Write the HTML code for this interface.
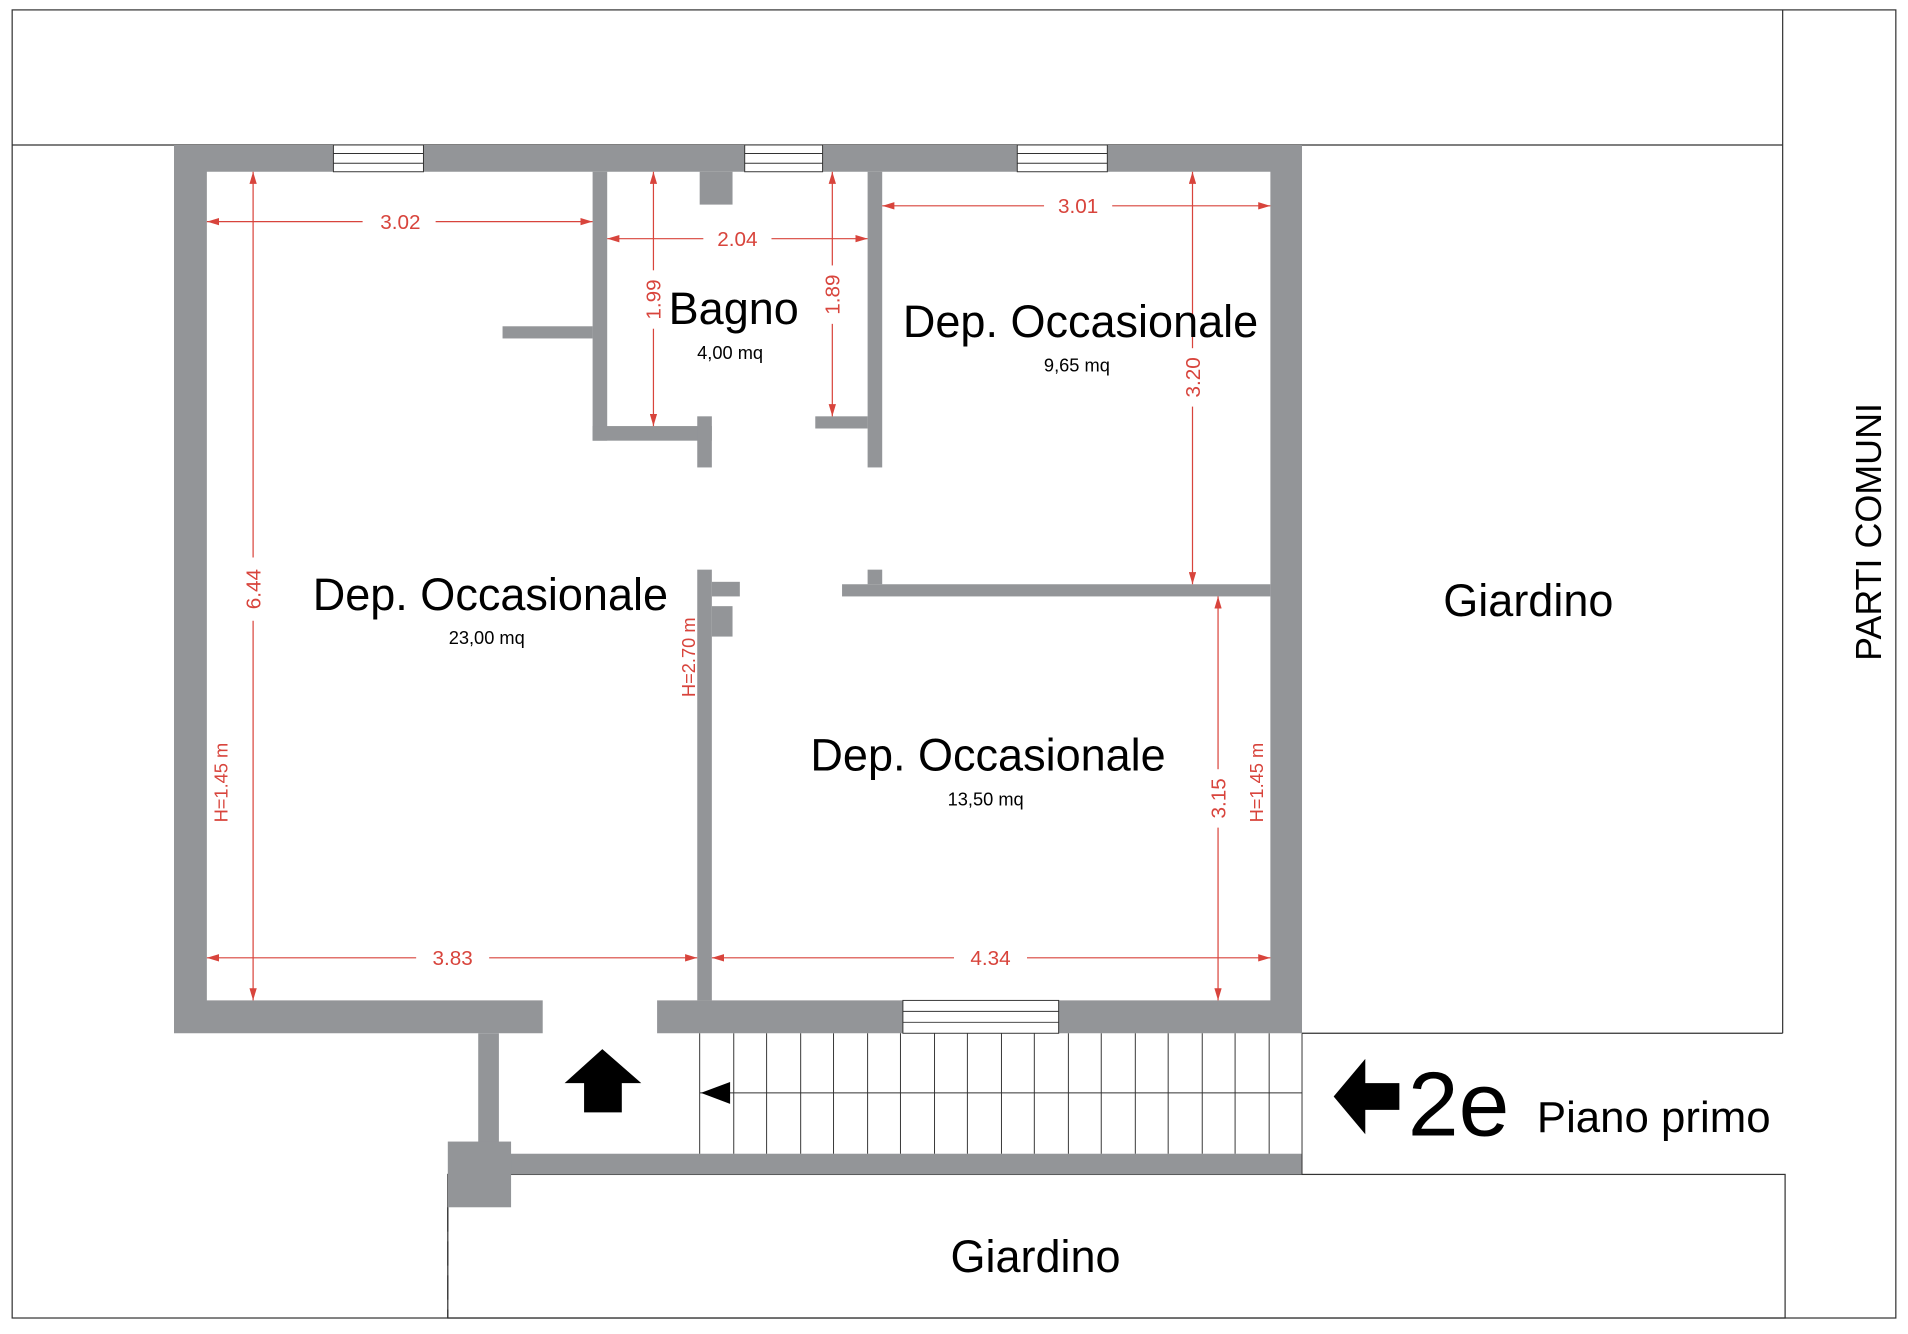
<!DOCTYPE html>
<html><head><meta charset="utf-8"><style>
html,body{margin:0;padding:0;background:#fff;}
svg{display:block;}
text{font-family:"Liberation Sans",sans-serif;}
</style></head><body>
<svg width="1908" height="1334" viewBox="0 0 1568 1096" xmlns="http://www.w3.org/2000/svg">
<defs>
<marker id="a" viewBox="0 0 10 6" refX="10" refY="3" markerWidth="10" markerHeight="6" orient="auto-start-reverse" markerUnits="userSpaceOnUse"><path d="M0,0 L10,3 L0,6 z" fill="#d8443c"/></marker>
</defs>
<rect width="1568" height="1096" fill="#fff"/>
<g fill="none" stroke="#333" stroke-width="1">
<rect x="10" y="8" width="1548" height="1075"/>
<line x1="10" y1="119" x2="1465" y2="119"/>
<line x1="1465" y1="8" x2="1465" y2="849"/>
<line x1="1070" y1="849" x2="1465" y2="849"/>
<rect x="368" y="965" width="1099" height="118"/>
<line x1="368" y1="992" x2="368" y2="1083" stroke-dasharray="20,8"/>
</g>
<g fill="#939598">
<path d="M143,119 H1070 V849 H143 Z M170,141 V822 H1044 V141 Z" fill-rule="evenodd"/>
<rect x="487" y="141" width="12" height="221"/>
<rect x="487" y="350" width="98" height="12"/>
<rect x="573" y="342" width="12" height="42"/>
<rect x="575" y="141" width="27" height="27"/>
<rect x="413" y="268" width="74" height="10"/>
<rect x="713" y="141" width="12" height="243"/>
<rect x="670" y="342" width="43" height="10"/>
<rect x="573" y="468" width="12" height="354"/>
<rect x="585" y="478" width="23" height="12"/>
<rect x="585" y="498" width="17" height="25"/>
<rect x="692" y="480" width="352" height="10"/>
<rect x="713" y="468" width="12" height="12"/>
<rect x="393" y="849" width="17" height="99"/>
<rect x="410" y="948" width="660" height="17"/>
<rect x="368" y="938" width="52" height="54"/>
</g>
<g fill="#fff" stroke="#333" stroke-width="0.8">
<rect x="274" y="119" width="74" height="22"/>
<line x1="274" y1="126" x2="348" y2="126"/><line x1="274" y1="134" x2="348" y2="134"/>
<rect x="612" y="119" width="64" height="22"/>
<line x1="612" y1="126" x2="676" y2="126"/><line x1="612" y1="134" x2="676" y2="134"/>
<rect x="836" y="119" width="74" height="22"/>
<line x1="836" y1="126" x2="910" y2="126"/><line x1="836" y1="134" x2="910" y2="134"/>
<rect x="742" y="822" width="128" height="27"/>
<line x1="742" y1="831" x2="870" y2="831"/><line x1="742" y1="840" x2="870" y2="840"/>
</g>
<rect x="446" y="820" width="94" height="31" fill="#fff"/>
<g stroke="#333" stroke-width="0.8">
<line x1="575" y1="898" x2="1070" y2="898"/>
<line x1="575" y1="849" x2="575" y2="948"/><line x1="603" y1="849" x2="603" y2="948"/><line x1="630" y1="849" x2="630" y2="948"/><line x1="658" y1="849" x2="658" y2="948"/><line x1="685" y1="849" x2="685" y2="948"/><line x1="713" y1="849" x2="713" y2="948"/><line x1="740" y1="849" x2="740" y2="948"/><line x1="768" y1="849" x2="768" y2="948"/><line x1="795" y1="849" x2="795" y2="948"/><line x1="823" y1="849" x2="823" y2="948"/><line x1="850" y1="849" x2="850" y2="948"/><line x1="878" y1="849" x2="878" y2="948"/><line x1="905" y1="849" x2="905" y2="948"/><line x1="933" y1="849" x2="933" y2="948"/><line x1="960" y1="849" x2="960" y2="948"/><line x1="988" y1="849" x2="988" y2="948"/><line x1="1015" y1="849" x2="1015" y2="948"/><line x1="1043" y1="849" x2="1043" y2="948"/><line x1="1070" y1="849" x2="1070" y2="965"/>
</g>
<path d="M576,898 L600,889 L600,907 Z" fill="#000"/>
<path d="M495,862 L527,890 L511,890 L511,914 L480,914 L480,890 L464,890 Z" fill="#000"/>
<path d="M1096,901 L1122,870 L1122,890 L1150,890 L1150,912 L1122,912 L1122,932 Z" fill="#000"/>
<g stroke="#d8443c" stroke-width="1" fill="none" marker-start="url(#a)" marker-end="url(#a)">
<line x1="170" y1="182" x2="487" y2="182"/>
<line x1="499" y1="196" x2="713" y2="196"/>
<line x1="725" y1="169" x2="1044" y2="169"/>
<line x1="208" y1="141" x2="208" y2="822"/>
<line x1="537" y1="141" x2="537" y2="350"/>
<line x1="684" y1="141" x2="684" y2="342"/>
<line x1="980" y1="141" x2="980" y2="480"/>
<line x1="1001" y1="490" x2="1001" y2="822"/>
<line x1="170" y1="787" x2="573" y2="787"/>
<line x1="585" y1="787" x2="1044" y2="787"/>
</g>
<g fill="#d8443c" font-size="17">
<rect x="298" y="172" width="60" height="20" fill="#fff"/><text x="329" y="188" text-anchor="middle">3.02</text>
<rect x="578" y="186" width="56" height="20" fill="#fff"/><text x="606" y="202" text-anchor="middle">2.04</text>
<rect x="858" y="159" width="56" height="20" fill="#fff"/><text x="886" y="175" text-anchor="middle">3.01</text>
<rect x="342" y="777" width="60" height="20" fill="#fff"/><text x="372" y="793" text-anchor="middle">3.83</text>
<rect x="784" y="777" width="60" height="20" fill="#fff"/><text x="814" y="793" text-anchor="middle">4.34</text>
<g transform="translate(214,484) rotate(-90)"><rect x="-26" y="-16" width="52" height="20" fill="#fff"/><text text-anchor="middle">6.44</text></g>
<g transform="translate(543,246) rotate(-90)"><rect x="-24" y="-16" width="48" height="20" fill="#fff"/><text text-anchor="middle">1.99</text></g>
<g transform="translate(690,242) rotate(-90)"><rect x="-24" y="-16" width="48" height="20" fill="#fff"/><text text-anchor="middle">1.89</text></g>
<g transform="translate(986,310) rotate(-90)"><rect x="-24" y="-16" width="48" height="20" fill="#fff"/><text text-anchor="middle">3.20</text></g>
<g transform="translate(1007,656) rotate(-90)"><rect x="-24" y="-16" width="48" height="20" fill="#fff"/><text text-anchor="middle">3.15</text></g>
<text transform="translate(187,643) rotate(-90)" text-anchor="middle" font-size="15">H=1.45  m</text>
<text transform="translate(571,540) rotate(-90)" text-anchor="middle" font-size="15">H=2.70  m</text>
<text transform="translate(1038,643) rotate(-90)" text-anchor="middle" font-size="15">H=1.45  m</text>
</g>
<g fill="#000" text-anchor="middle">
<text x="603" y="266" font-size="37">Bagno</text>
<text x="600" y="295" font-size="15">4,00 mq</text>
<text x="888" y="277" font-size="37">Dep. Occasionale</text>
<text x="885" y="305" font-size="15">9,65 mq</text>
<text x="403" y="501" font-size="37">Dep. Occasionale</text>
<text x="400" y="529" font-size="15">23,00 mq</text>
<text x="812" y="633" font-size="37">Dep. Occasionale</text>
<text x="810" y="662" font-size="15">13,50 mq</text>
<text x="1256" y="506" font-size="37">Giardino</text>
<text x="851" y="1045" font-size="37">Giardino</text>
<text transform="translate(1546,437) rotate(-90)" font-size="29.5">PARTI COMUNI</text>
</g>
<text x="1157" y="933" font-size="75" fill="#000">2e</text>
<text x="1263" y="930" font-size="36" fill="#000">Piano primo</text>
</svg>
</body></html>
